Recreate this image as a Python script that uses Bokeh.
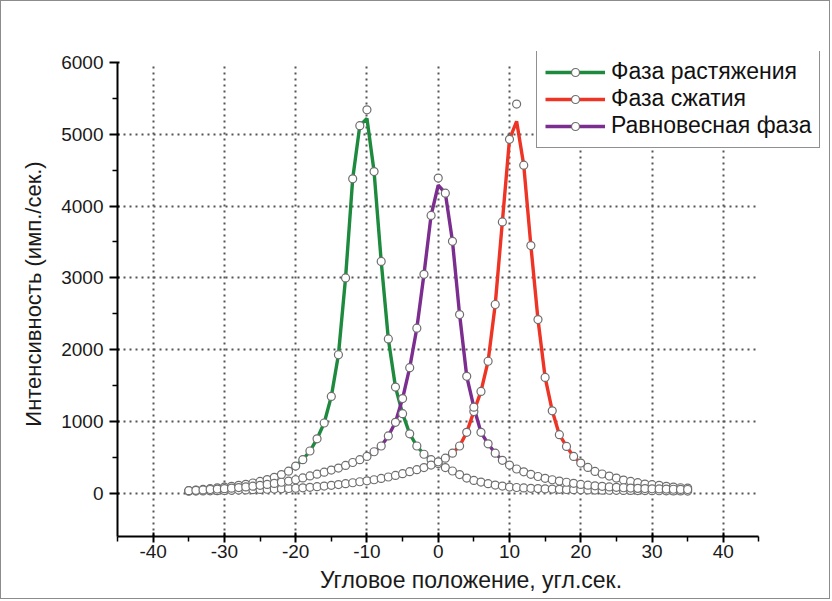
from bokeh.plotting import figure
from bokeh.models import Range1d, FixedTicker, Legend, LegendItem
from bokeh.embed import file_html
from bokeh.resources import INLINE

# --- data -----------------------------------------------------------------
angle = list(range(-35, 36))  # угл.сек.

green_pts = [38, 47, 56, 66, 77, 88, 99, 112, 127, 145,
             167, 193, 224, 262, 310, 380, 470, 590, 760, 980,
             1350, 1930, 3000, 4380, 5120, 5340, 4480, 3230, 2150, 1480,
             1110, 830, 660, 545, 470, 415, 360, 312, 262, 213,
             181, 158, 136, 116, 102, 88, 82, 76, 71, 67,
             63, 60, 57, 54, 52, 50, 48, 46, 45, 44,
             43, 42, 41, 40, 39, 38, 37, 36, 35, 34, 33]

red_pts = [30, 32, 34, 36, 38, 40, 43, 46, 49, 52,
           55, 58, 61, 64, 68, 72, 78, 85, 93, 102,
           112, 123, 135, 148, 162, 175, 190, 208, 228, 250,
           275, 302, 330, 360, 395, 440, 490, 560, 660, 850,
           1140, 1420, 1840, 2630, 3780, 4930, 5420, 4570, 3450, 2420,
           1615, 1150, 817, 654, 515, 422, 362, 306, 270, 241,
           213, 186, 167, 149, 130, 121, 112, 98, 88, 79, 74]

purple_pts = [38, 43, 48, 54, 60, 66, 73, 81, 90, 100,
              112, 125, 139, 155, 172, 190, 215, 243, 268, 295,
              325, 353, 390, 430, 470, 515, 580, 660, 800, 990,
              1320, 1750, 2300, 3050, 3870, 4390, 4180, 3510, 2490, 1630,
              1200, 850, 690, 560, 460, 395, 340, 300, 265, 235,
              210, 190, 172, 155, 140, 125, 115, 106, 98, 90,
              84, 79, 74, 70, 67, 64, 62, 60, 58, 56, 54]

# fitted-curve values at the peaks (the fit passes below the top points)
green_fit_peak = (-10, 5220)
red_fit_peak = (11, 5180)
purple_fit_peak = (0, 4290)

x_axis_span = (-45, 45)
y_axis_span = (-600, 6000)
x_ticks = [-40, -30, -20, -10, 0, 10, 20, 30, 40]
x_minor = [-45, -35, -25, -15, -5, 5, 15, 25, 35, 45]
y_ticks = [0, 1000, 2000, 3000, 4000, 5000, 6000]
y_minor = [500, 1500, 2500, 3500, 4500, 5500]
y_grid = [0, 1000, 2000, 3000, 4000, 5000]

labels = ["Фаза растяжения", "Фаза сжатия", "Равновесная фаза"]
colors = ["#1d8a3e", "#ee3424", "#7b2d90"]


def fit_line(pts, peak):
    vals = list(pts)
    vals[angle.index(peak[0])] = peak[1]
    return vals


FONT = "Liberation Sans"

# the frame extends right of / above the axes so the legend is not clipped;
# the axis lines themselves stop at +45 and 6000
p = figure(width=830, height=599, output_backend="svg", toolbar_location=None,
           x_range=Range1d(-45, 54.2), y_range=Range1d(-600, 6152),
           min_border_left=116, min_border_right=7,
           min_border_top=50, min_border_bottom=64,
           background_fill_color="white", border_fill_color="white")
p.outline_line_color = None
p.styles = {"border": "1px solid #8c8c8c", "box-sizing": "border-box"}

# axes
for ax in (p.xaxis[0], p.yaxis[0]):
    ax.axis_line_width = 2
    ax.axis_line_color = "black"
    ax.major_tick_line_width = 2
    ax.minor_tick_line_width = 1.5
    ax.major_tick_line_color = "black"
    ax.minor_tick_line_color = "black"
    ax.major_label_text_font = FONT
    ax.major_label_text_font_size = "19px"
    ax.major_label_text_color = "#1a1a1a"
    ax.axis_label_text_font = FONT
    ax.axis_label_text_font_style = "normal"
    ax.axis_label_text_color = "#1a1a1a"

p.xaxis.axis_label_text_font_size = "23px"
p.yaxis.axis_label_text_font_size = "22px"

p.xaxis.bounds = x_axis_span
p.yaxis.bounds = y_axis_span
p.xaxis.ticker = FixedTicker(ticks=x_ticks, minor_ticks=x_minor)
p.yaxis.ticker = FixedTicker(ticks=y_ticks, minor_ticks=y_minor)
p.xaxis.major_label_overrides = {t: str(t) for t in x_ticks}
p.xaxis.major_tick_in = 4
p.xaxis.major_tick_out = 6
p.xaxis.minor_tick_in = 0
p.xaxis.minor_tick_out = 5
p.xaxis.major_label_standoff = 2
p.xaxis.axis_label = "Угловое положение, угл.сек."
p.xaxis.axis_label_standoff = 6

p.yaxis.major_tick_in = 2
p.yaxis.major_tick_out = 8
p.yaxis.minor_tick_in = 0
p.yaxis.minor_tick_out = 5
p.yaxis.major_label_standoff = 6
p.yaxis.axis_label = "Интенсивность (имп./сек.)"
p.yaxis.axis_label_standoff = 12

# grid
p.xgrid.ticker = FixedTicker(ticks=x_ticks)
p.ygrid.ticker = FixedTicker(ticks=y_grid)
p.ygrid.cross_bounds = x_axis_span
p.xgrid.cross_bounds = y_axis_span
for g in (p.xgrid[0], p.ygrid[0]):
    g.grid_line_color = "#555555"
    g.grid_line_width = 2
    g.grid_line_dash = "2 4"

# series
series = [(green_pts, green_fit_peak), (red_pts, red_fit_peak), (purple_pts, purple_fit_peak)]
lines = []
for (pts, peak), color in zip(series, colors):
    lines.append(p.line(angle, fit_line(pts, peak), line_color=color, line_width=3.4))

marks = []
for pts, peak in series:
    marks.append(p.scatter(angle, pts, marker="circle", size=8, fill_color="white",
                           line_color="#6e6e6e", line_width=1.2))

legend = Legend(items=[LegendItem(label=lab, renderers=[ln, sc])
                       for lab, ln, sc in zip(labels, lines, marks)],
                location=(419, 388))
legend.label_text_font = FONT
legend.label_text_font_size = "23px"
legend.label_text_color = "#111111"
legend.glyph_width = 60
legend.glyph_height = 20
legend.label_height = 20
legend.label_standoff = 6
legend.spacing = 0
legend.padding = 8
legend.margin = 0
legend.border_line_color = "#222222"
legend.border_line_width = 1.3
legend.background_fill_color = "white"
legend.background_fill_alpha = 1
p.add_layout(legend)

open("out.html", "w").write(file_html(p, INLINE))
